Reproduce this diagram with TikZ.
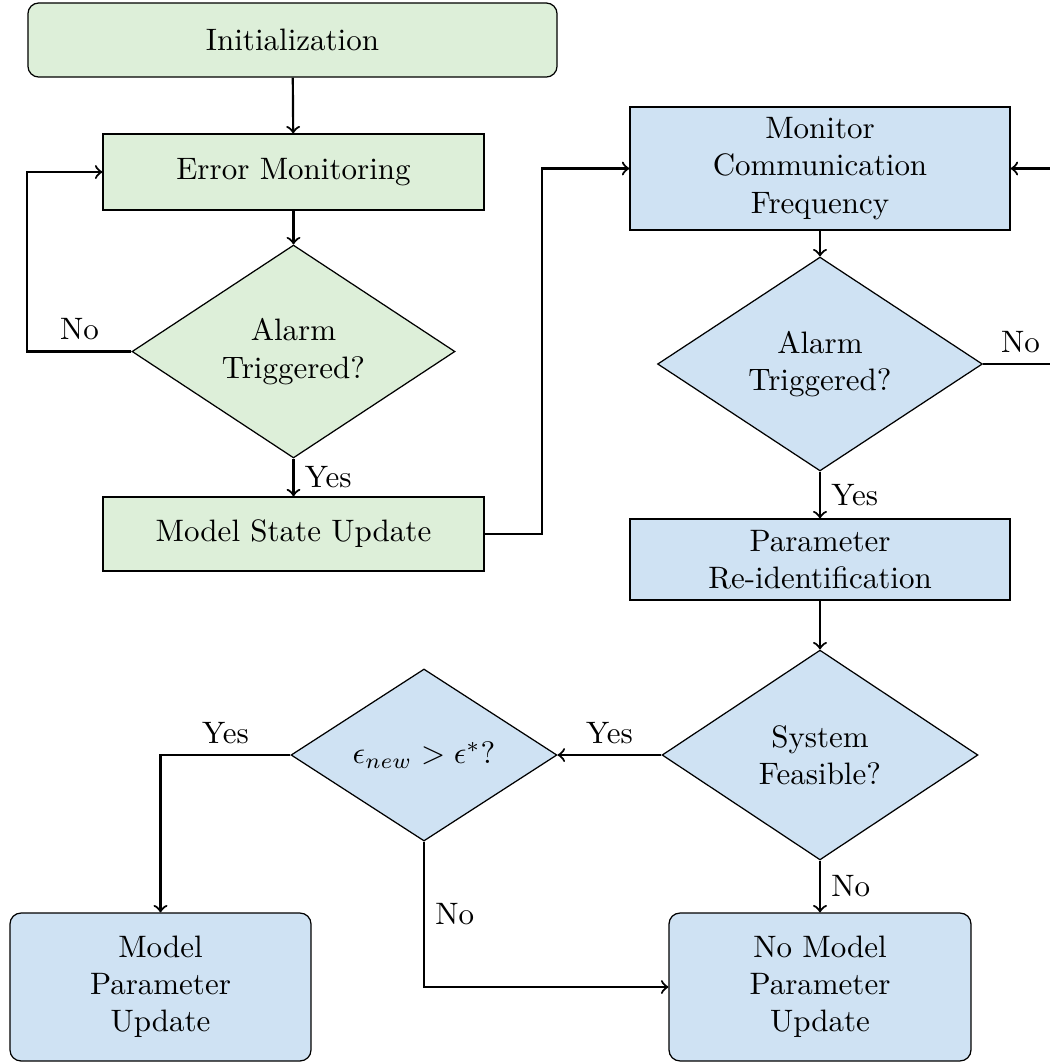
\documentclass[tikz,border=0pt]{standalone}
\usetikzlibrary{shapes.geometric}
\definecolor{boxgreen}{HTML}{DDEFD9}
\definecolor{boxblue}{HTML}{CFE2F3}
\begin{document}
\begin{tikzpicture}[x=0.3226pt, y=-0.3226pt,
  base/.style={draw, line width=0.4pt, align=center, inner sep=0pt},
  greenbox/.style={base, fill=boxgreen},
  bluebox/.style={base, fill=boxblue},
  decision/.style={diamond, aspect=1.5},
  flow/.style={->, line width=0.7pt}]
\path[use as bounding box, clip] (0,0) rectangle (1050,1064);

% left column
\node[greenbox, rounded corners=3.5pt, minimum width=170.7pt, minimum height=23.9pt] (init) at (292.5,40) {Initialization};
\node[greenbox, minimum width=122.9pt, minimum height=24.5pt] (errmon) at (293.5,172) {Error Monitoring};
\node[greenbox, decision, minimum width=104.2pt, minimum height=68.7pt] (alarmA) at (293.5,351.5) {Alarm\\Triggered?};
\node[greenbox, minimum width=122.9pt, minimum height=23.9pt] (msu) at (293.5,534) {Model State Update};

% right column
\node[bluebox, minimum width=122.6pt, minimum height=39.7pt] (monitor) at (820,168.5) {Monitor\\Communication\\Frequency};
\node[bluebox, decision, minimum width=104.8pt, minimum height=69pt] (alarmB) at (820,364) {Alarm\\Triggered?};
\node[bluebox, minimum width=122.6pt, minimum height=26.1pt] (param) at (820,559.5) {Parameter\\Re-identification};
\node[bluebox, decision, minimum width=101.9pt, minimum height=67.7pt] (feasible) at (820,755) {System\\Feasible?};
\node[bluebox, decision, minimum width=85.8pt, minimum height=55.5pt] (eps) at (424,755) {$\epsilon_{new} > \epsilon^{*}$?};
\node[bluebox, rounded corners=3.5pt, minimum width=97.1pt, minimum height=47.7pt] (mpu) at (160.5,987) {Model\\Parameter\\Update};
\node[bluebox, rounded corners=3.5pt, minimum width=97.4pt, minimum height=47.7pt] (nmpu) at (820,987) {No Model\\Parameter\\Update};

% connectors
\draw[flow] (init) -- (errmon);
\draw[flow] (errmon) -- (alarmA);
\draw[flow] (alarmA.west) -- node[above, pos=0.5] {No} ++(-104,0) |- (errmon.west);
\draw[flow] (alarmA.south) -- node[right] {Yes} (msu.north);
\draw[flow] (msu.east) -- ++(57,0) |- (monitor.west);
\draw[flow] (monitor) -- (alarmB);
\draw[flow] (alarmB.east) -- node[above] {No} ++(75,0) |- (monitor.east);
\draw[flow] (alarmB.south) -- node[right] {Yes} (param.north);
\draw[flow] (param) -- (feasible);
\draw[flow] (feasible.west) -- node[above] {Yes} (eps.east);
\draw[flow] (feasible.south) -- node[right] {No} (nmpu.north);
\draw[flow] (eps.west) -| node[above, pos=0.25] {Yes} (mpu.north);
\draw[flow] (eps.south) |- node[right, pos=0.25] {No} (nmpu.west);
\end{tikzpicture}
\end{document}
